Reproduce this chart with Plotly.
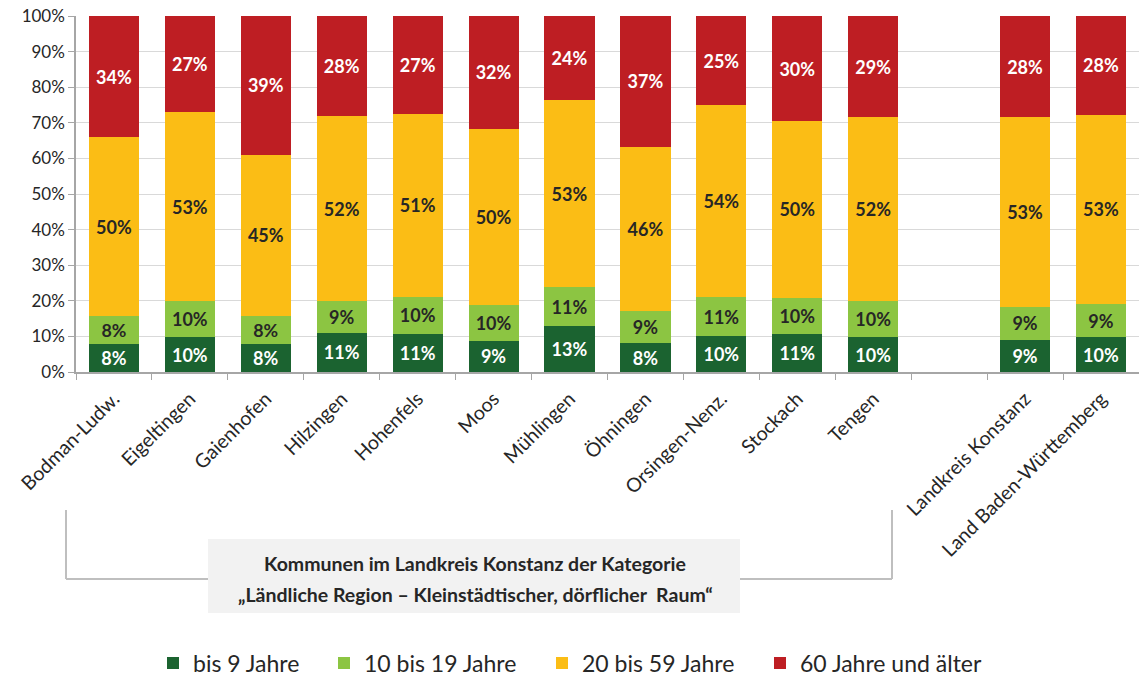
import plotly.graph_objects as go

categories = ["Bodman-Ludw.", "Eigeltingen", "Gaienhofen", "Hilzingen", "Hohenfels", "Moos",
              "Mühlingen", "Öhningen", "Orsingen-Nenz.", "Stockach", "Tengen", " ",
              "Landkreis Konstanz", "Land Baden-Württemberg"]

bis_9 =      [7.9, 9.8, 7.9, 11.0, 10.8, 8.8, 12.9, 8.1, 10.1, 10.6, 9.8, None, 9.0, 9.8]
bis_19 =     [7.8, 10.1, 7.8, 8.9, 10.3, 9.9, 10.9, 9.1, 10.9, 10.3, 10.1, None, 9.3, 9.3]
bis_59 =     [50.3, 53.1, 45.3, 52.0, 51.4, 49.6, 52.6, 46.1, 54.0, 49.6, 51.6, None, 53.3, 53.1]
ab_60 =      [34.0, 27.0, 39.0, 28.1, 27.4, 31.7, 23.6, 36.7, 25.0, 29.5, 28.5, None, 28.4, 27.8]

series_names = ["bis 9 Jahre", "10 bis 19 Jahre", "20 bis 59 Jahre", "60 Jahre und älter"]
series_values = [bis_9, bis_19, bis_59, ab_60]

y_tickvals = [0, 10, 20, 30, 40, 50, 60, 70, 80, 90, 100]
y_ticktext = ["0%", "10%", "20%", "30%", "40%", "50%", "60%", "70%", "80%", "90%", "100%"]

colors = ["#1b6330", "#8cc542", "#fbbd15", "#be1e23"]
text_colors = ["#ffffff", "#262626", "#262626", "#ffffff"]

FONT = "Lato"

# plot-area geometry in pixels (for the decorative bracket, box and legends)
W, H = 1139, 677
L, R, T, B = 76, 0, 16, 305
pw, ph = W - L - R, H - T - B

def px(x):
    return (x - L) / pw

def py(y):
    return (H - B - y) / ph

legend_ids = ["legend", "legend2", "legend3", "legend4"]
legend_px = [172, 343, 561, 779]   # left edge of each legend swatch

fig = go.Figure()
for name, vals, col, tcol, lid in zip(series_names, series_values, colors, text_colors, legend_ids):
    fig.add_trace(go.Bar(
        x=categories, y=vals, name=name, legend=lid,
        marker=dict(color=col, line=dict(width=0)),
        texttemplate="%{y:.0f}%", textposition="inside", insidetextanchor="middle",
        textfont=dict(family=FONT, size=18, color=tcol, weight="bold"),
        textangle=0, cliponaxis=False,
    ))

shapes = [
    dict(type="line", xref="paper", yref="paper", x0=px(66), x1=px(66), y0=py(510), y1=py(579),
         line=dict(color="#bfbfbf", width=2)),
    dict(type="line", xref="paper", yref="paper", x0=px(66), x1=px(892), y0=py(579), y1=py(579),
         line=dict(color="#bfbfbf", width=2)),
    dict(type="line", xref="paper", yref="paper", x0=px(892), x1=px(892), y0=py(510), y1=py(579),
         line=dict(color="#bfbfbf", width=2)),
    dict(type="rect", xref="paper", yref="paper", x0=px(208), x1=px(740), y0=py(539), y1=py(613),
         fillcolor="#f2f2f2", line=dict(width=0)),
]

annotations = [
    dict(xref="paper", yref="paper", x=px(475), y=py(563), xanchor="center", yanchor="middle",
         showarrow=False, text="Kommunen im Landkreis Konstanz der Kategorie",
         font=dict(family=FONT, size=19.5, color="#262626", weight="bold")),
    dict(xref="paper", yref="paper", x=px(475), y=py(594), xanchor="center", yanchor="middle",
         showarrow=False, text="„Ländliche Region – Kleinstädtischer, dörflicher  Raum“",
         font=dict(family=FONT, size=19.5, color="#262626", weight="bold")),
]

legend_layout = {}
for lid, lx in zip(legend_ids, legend_px):
    legend_layout[lid] = dict(
        orientation="h", xref="container", yref="container",
        x=(lx - 19) / W, xanchor="left", y=(H - 663) / H, yanchor="middle",
        font=dict(family=FONT, size=23, color="#262626"),
        itemclick=False, bgcolor="rgba(0,0,0,0)", borderwidth=0,
    )

fig.update_layout(
    barmode="stack",
    bargap=0.34,
    width=W, height=H,
    margin=dict(l=L, r=R, t=T, b=B, autoexpand=False),
    plot_bgcolor="white", paper_bgcolor="white",
    font=dict(family=FONT, color="#404040"),
    shapes=shapes,
    annotations=annotations,
    showlegend=True,
    xaxis=dict(type="category", categoryorder="array", categoryarray=categories,
               tickangle=-45, tickson="boundaries", ticks="outside", ticklen=6,
               ticklabelstandoff=6,
               tickcolor="#a6a6a6", showline=True, linecolor="#a6a6a6", linewidth=1.5,
               tickfont=dict(family=FONT, size=19.5, color="#262626"), showgrid=False),
    yaxis=dict(range=[0, 100.001], tickmode="array", tickvals=y_tickvals, ticktext=y_ticktext,
               showgrid=True, gridcolor="#d9d9d9",
               gridwidth=1, ticks="outside", ticklen=6, tickcolor="#a6a6a6",
               showline=True, linecolor="#a6a6a6", linewidth=1.5,
               tickfont=dict(family=FONT, size=17, color="#262626"), zeroline=False),
    **legend_layout,
)

fig.write_html("out.html", config={"displayModeBar": False},
               post_script="document.body.style.margin='0';")
